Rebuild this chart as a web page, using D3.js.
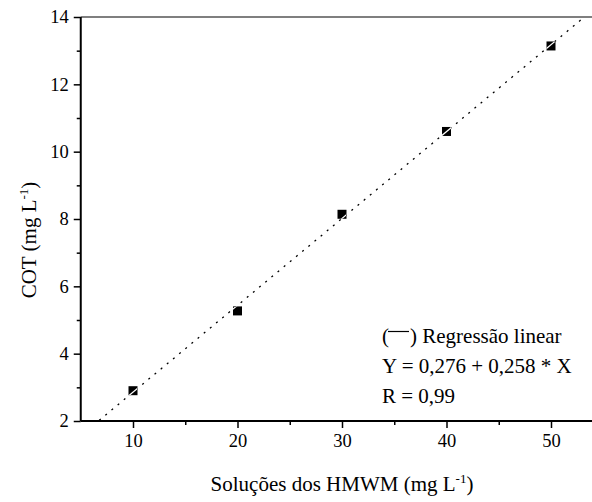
<!DOCTYPE html>
<html>
<head>
<meta charset="utf-8">
<script src="https://cdn.jsdelivr.net/npm/d3@7"></script>
<style>
  body { margin: 0; background: #fff; }
  svg, svg text { font-family: "Liberation Serif", "Times New Roman", Times, "DejaVu Serif", serif; }
</style>
</head>
<body>
<div id="chart-area"></div>
<script>
// data
const xValues = [10, 20, 30, 40, 50]
const yValues = [2.9, 5.27, 8.14, 10.6, 13.14]
const xTicks = [10, 20, 30, 40, 50]
const xMinorTicks = [15, 25, 35, 45, 55]
const yTicks = [2, 4, 6, 8, 10, 12, 14]
const yMinorTicks = [3, 5, 7, 9, 11, 13]
// regression Y = a + b * X
const fitA = 0.276
const fitB = 0.258
const legendLines = ["Y = 0,276 + 0,258 * X", "R = 0,99"]

// canvas and margin sizes
const MARGIN = { LEFT: 80.75, TOP: 17 }
const WIDTH = 603.25 - MARGIN.LEFT
const HEIGHT = 421 - MARGIN.TOP

const svg = d3.select("#chart-area").append("svg")
  .attr("width", 592)
  .attr("height", 502)

const g = svg.append("g")
  .attr("transform", `translate(${MARGIN.LEFT}, ${MARGIN.TOP})`)

const x = d3.scaleLinear().domain([5, 55]).range([0, WIDTH])
const y = d3.scaleLinear().domain([2, 14]).range([HEIGHT, 0])

// clip for the fit line
svg.append("defs").append("clipPath").attr("id", "plot-clip")
  .append("rect").attr("width", WIDTH).attr("height", HEIGHT)

// top frame line
g.append("line")
  .attr("x1", 0).attr("x2", WIDTH)
  .attr("y1", 0).attr("y2", 0)
  .attr("stroke", "#000").attr("stroke-width", 1.2)

// regression line (dotted)
const fitLine = d3.line().x(d => x(d)).y(d => y(fitA + fitB * d))
const fitDomain = [5, 55]
g.append("path")
  .attr("clip-path", "url(#plot-clip)")
  .attr("d", fitLine(fitDomain))
  .attr("fill", "none")
  .attr("stroke", "#000")
  .attr("stroke-width", 1.3)
  .attr("stroke-dasharray", "2,6")

// markers
const pts = xValues.map((v, i) => ({ x: v, y: yValues[i] }))
const S = 9
g.selectAll("rect.pt")
  .data(pts)
  .enter().append("rect")
  .attr("class", "pt")
  .attr("x", d => x(d.x) - S / 2)
  .attr("y", d => y(d.y) - S / 2)
  .attr("width", S)
  .attr("height", S)
  .attr("fill", "#000")

// white trace of the fit line over markers
const mClip = svg.select("defs").append("clipPath").attr("id", "marker-clip")
mClip.selectAll("rect")
  .data(pts)
  .enter().append("rect")
  .attr("x", d => x(d.x) - S / 2)
  .attr("y", d => y(d.y) - S / 2)
  .attr("width", S)
  .attr("height", S)
g.append("path")
  .attr("clip-path", "url(#marker-clip)")
  .attr("d", fitLine(fitDomain))
  .attr("fill", "none")
  .attr("stroke", "#fff")
  .attr("stroke-width", 1.2)

// axes
const styleAxis = sel => {
  sel.attr("font-family", null)
  sel.select(".domain").remove()
  sel.selectAll("line").attr("stroke", "#000").attr("stroke-width", 1.5)
  sel.selectAll("text").attr("font-size", "18.5px").attr("fill", "#000")
}

const xAxisGroup = g.append("g").attr("transform", `translate(0, ${HEIGHT})`)
xAxisGroup.call(d3.axisBottom(x).tickValues(xTicks).tickSize(7).tickPadding(6).tickFormat(d3.format("d")))
  .call(styleAxis)
g.append("g").attr("transform", `translate(0, ${HEIGHT})`)
  .call(d3.axisBottom(x).tickValues(xMinorTicks).tickSize(4).tickFormat(""))
  .call(styleAxis)
g.append("line")
  .attr("x1", 0).attr("x2", WIDTH)
  .attr("y1", HEIGHT).attr("y2", HEIGHT)
  .attr("stroke", "#000").attr("stroke-width", 2)

const yAxisGroup = g.append("g")
yAxisGroup.call(d3.axisLeft(y).tickValues(yTicks).tickSize(7).tickPadding(5).tickFormat(d3.format("d")))
  .call(styleAxis)
g.append("g")
  .call(d3.axisLeft(y).tickValues(yMinorTicks).tickSize(4).tickFormat(""))
  .call(styleAxis)
g.append("line")
  .attr("x1", 0).attr("x2", 0)
  .attr("y1", 0).attr("y2", HEIGHT)
  .attr("stroke", "#000").attr("stroke-width", 2)

// X label
const xLabel = svg.append("text")
  .attr("x", 342)
  .attr("y", 491)
  .attr("font-size", "21px")
  .attr("text-anchor", "middle")
xLabel.append("tspan").text("Soluções dos HMWM (mg L")
xLabel.append("tspan").attr("font-size", "13px").attr("dy", -8).text("-1")
xLabel.append("tspan").attr("dy", 8).text(")")

// Y label
const yLabel = svg.append("text")
  .attr("transform", "translate(36, 240) rotate(-90)")
  .attr("font-size", "21px")
  .attr("text-anchor", "middle")
yLabel.append("tspan").text("COT (mg L")
yLabel.append("tspan").attr("font-size", "13px").attr("dy", -8).text("-1")
yLabel.append("tspan").attr("dy", 8).text(")")

// legend
const legend = svg.append("g").attr("font-size", "21px")
legend.append("text").attr("x", 382).attr("y", 343).text("(")
legend.append("line")
  .attr("x1", 388).attr("x2", 409)
  .attr("y1", 331.5).attr("y2", 331.5)
  .attr("stroke", "#000").attr("stroke-width", 1.2)
legend.append("text").attr("x", 410).attr("y", 343).text(") Regressão linear")
legend.selectAll("text.eq")
  .data(legendLines)
  .enter().append("text")
  .attr("class", "eq")
  .attr("x", 382)
  .attr("y", (d, i) => 373 + i * 30)
  .text(d => d)
</script>
</body>
</html>
